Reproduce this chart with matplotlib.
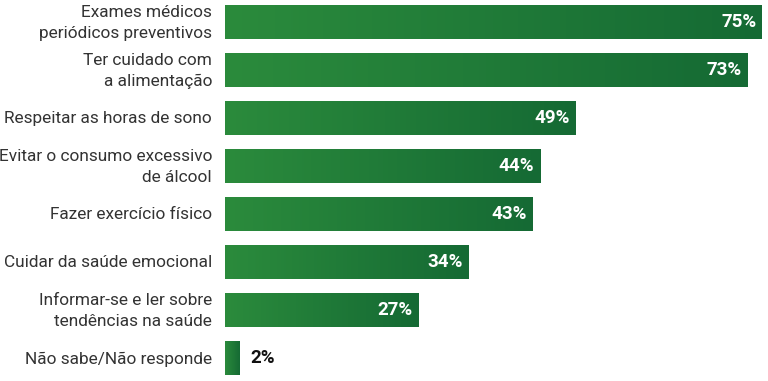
import matplotlib
matplotlib.use("Agg")
import matplotlib.pyplot as plt
import numpy as np
from matplotlib.colors import LinearSegmentedColormap

categories = [
    "Exames médicos\nperiódicos preventivos",
    "Ter cuidado com\na alimentação",
    "Respeitar as horas de sono",
    "Evitar o consumo excessivo\nde álcool",
    "Fazer exercício físico",
    "Cuidar da saúde emocional",
    "Informar-se e ler sobre\ntendências na saúde",
    "Não sabe/Não responde",
]
values = [75, 73, 49, 44, 43, 34, 27, 2]

plt.rcParams["font.family"] = ["Roboto", "DejaVu Sans"]

W, H = 768, 381
fig = plt.figure(figsize=(W / 100, H / 100), dpi=100)
ax = fig.add_axes([225 / W, 0, (W - 225) / W, 1])

px_per_pct = 537 / 75
xmax = (W - 225) / px_per_pct
ymin, ymax = 7 + 23 / 48, -22 / 48

cmap = LinearSegmentedColormap.from_list("grn", ["#2b8b3c", "#156a34"])
grad = np.linspace(0, 1, 256).reshape(1, -1)
bar_h = 34 / 48

for i, (lab, v) in enumerate(zip(categories, values)):
    y0, y1 = i - bar_h / 2, i + bar_h / 2
    ax.imshow(grad, cmap=cmap, aspect="auto", extent=(0, v, y1, y0),
              interpolation="bicubic", zorder=2)
    if v >= 10:
        ax.text(v - 0.8, i, f"{v}%", ha="right", va="center", color="white",
                fontsize=13.5, fontweight="bold", zorder=3)
    else:
        ax.text(v + 1.6, i, f"{v}%", ha="left", va="center", color="#111111",
                fontsize=13.5, fontweight="bold", zorder=3)
    ax.text(-1.8, i + 0.02, lab, ha="right", va="center", color="#333333",
            fontsize=12.4, linespacing=1.45, clip_on=False)

# imshow resets limits; restore them
ax.set_xlim(0, xmax)
ax.set_ylim(ymin, ymax)
ax.axis("off")

fig.savefig("out.png", dpi=100)
